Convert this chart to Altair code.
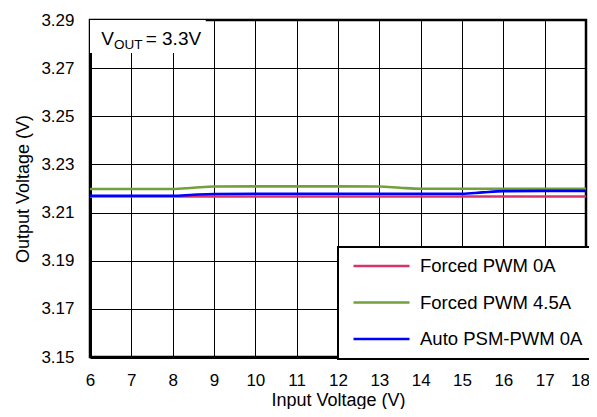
import altair as alt
import pandas as pd

# ---- data ----
vin = [6, 7, 8, 8.5, 9, 10, 11, 12, 13, 13.5, 14, 15, 15.5, 16, 17, 18]
forced_0a = [3.2167, 3.2167, 3.2167, 3.2167, 3.2167, 3.2167, 3.2167, 3.2167,
             3.2167, 3.2167, 3.2167, 3.2167, 3.2167, 3.2167, 3.2167, 3.2167]
forced_45a = [3.2198, 3.2198, 3.2198, 3.2203, 3.2208, 3.2209, 3.2209, 3.2209,
              3.2208, 3.2203, 3.2199, 3.2199, 3.2199, 3.2199, 3.2199, 3.2199]
auto_0a = [3.2170, 3.2170, 3.2170, 3.2174, 3.2177, 3.2178, 3.2178, 3.2178,
           3.2178, 3.2178, 3.2178, 3.2178, 3.2184, 3.2189, 3.2190, 3.2190]

series_names = ["Forced PWM 0A", "Forced PWM 4.5A", "Auto PSM-PWM 0A"]
series_colors = ["#D8346C", "#72A03C", "#0000FF"]
x_ticks = list(range(6, 19))
y_ticks = [3.15, 3.17, 3.19, 3.21, 3.23, 3.25, 3.27, 3.29]

rows = []
for name, vals in zip(series_names, [forced_0a, forced_45a, auto_0a]):
    for x, y in zip(vin, vals):
        rows.append({"vin": x, "vout": y, "series": name})
df = pd.DataFrame(rows)

FONT = "Liberation Sans"

xscale = alt.Scale(domain=[6, 18], nice=False, zero=False)
yscale = alt.Scale(domain=[3.15, 3.29], nice=False, zero=False)

lines = alt.Chart(df).mark_line(strokeWidth=2.6, interpolate="monotone").encode(
    x=alt.X("vin:Q", scale=xscale,
            axis=alt.Axis(values=x_ticks, title="Input Voltage (V)", format="d",
                          labelOffset={"condition": {"test": "datum.value == 18", "value": -6},
                                       "value": 0})),
    y=alt.Y("vout:Q", scale=yscale,
            axis=alt.Axis(values=y_ticks, title="Output Voltage (V)", format=".2f")),
    color=alt.Color("series:N",
                    scale=alt.Scale(domain=series_names, range=series_colors),
                    sort=series_names,
                    legend=alt.Legend(title=None, orient="none",
                                      legendX=248, legendY=227,
                                      symbolType="stroke", symbolSize=3136,
                                      symbolStrokeWidth=2.5, symbolOffset=4,
                                      labelFontSize=18.5, labelFont=FONT,
                                      labelColor="black", labelLimit=400,
                                      clipHeight=18, rowPadding=17.5, padding=10,
                                      fillColor="white", strokeColor="black",
                                      labelOffset=9)),
    order=alt.Order("series_order:Q"),
).transform_calculate(
    series_order="indexof(['Forced PWM 0A','Forced PWM 4.5A','Auto PSM-PWM 0A'], datum.series)"
)

# annotation box and text (V_OUT = 3.3V)
ann_df = pd.DataFrame({"x": [6.0], "x2": [8.8], "y": [3.29], "y2": [3.2763],
                       "tx": [6.27], "ty": [3.2796]})
box = alt.Chart(ann_df).mark_rect(color="white").encode(
    x=alt.X("x:Q", scale=xscale), x2="x2:Q",
    y=alt.Y("y:Q", scale=yscale), y2="y2:Q")
t_v = alt.Chart(ann_df).mark_text(text="V", align="left", baseline="alphabetic",
                                  fontSize=19, font=FONT, color="black").encode(
    x=alt.X("tx:Q", scale=xscale), y=alt.Y("ty:Q", scale=yscale))
t_sub = alt.Chart(ann_df).mark_text(text="OUT", align="left", baseline="alphabetic",
                                    fontSize=13.5, font=FONT, color="black",
                                    dx=12.8, dy=4).encode(
    x=alt.X("tx:Q", scale=xscale), y=alt.Y("ty:Q", scale=yscale))
t_rest = alt.Chart(ann_df).mark_text(text="= 3.3V", align="left", baseline="alphabetic",
                                     fontSize=19, font=FONT, color="black",
                                     dx=44.5).encode(
    x=alt.X("tx:Q", scale=xscale), y=alt.Y("ty:Q", scale=yscale))

chart = alt.layer(lines, box, t_v, t_sub, t_rest).properties(
    width=496, height=337,
    autosize=alt.AutoSizeParams(type="none"),
    padding={"left": 82, "top": 12, "right": 3, "bottom": 52},
).configure_view(
    stroke="black", strokeWidth=2.5
).configure_axis(
    labelFont=FONT, titleFont=FONT, labelFontSize=17, titleFontSize=18,
    labelColor="black", titleColor="black", titleFontWeight="normal",
    grid=True, gridColor="black", gridOpacity=1, gridWidth=1,
    domainColor="black", domainWidth=3, ticks=False,
).configure_axisX(
    labelPadding=15, titlePadding=3, labelFlush=False,
).configure_axisY(
    labelPadding=16, titlePadding=8,
).configure_legend(
    strokeWidth=2
)

chart.save("out.html", embed_options={"renderer": "svg", "actions": False})
